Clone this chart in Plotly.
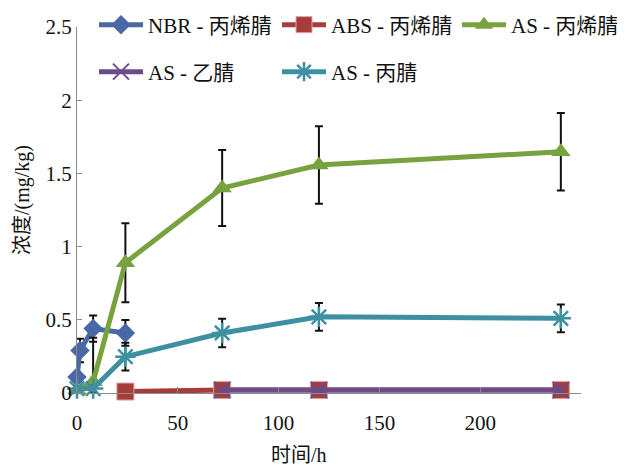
import plotly.graph_objects as go

# ---- data ----
time_nbr = [0, 1.5, 8, 24]
nbr_acrylonitrile = [0.11, 0.29, 0.44, 0.41]
nbr_err = [0.03, 0.08, 0.09, 0.088]

time_abs = [24, 72, 120, 240]
abs_acrylonitrile = [0.01, 0.02, 0.02, 0.02]

time_as = [0, 8, 24, 72, 120, 240]
as_acrylonitrile = [0.02, 0.077, 0.89, 1.40, 1.557, 1.648]
as_acrylonitrile_err = [0, 0.3, 0.27, 0.26, 0.265, 0.265]
as_acrylonitrile_err_minus = [0, 0.077, 0.27, 0.26, 0.265, 0.265]

time_as_acetonitrile = [72, 120, 240]
as_acetonitrile = [0.02, 0.02, 0.02]

as_propionitrile = [0.03, 0.03, 0.248, 0.41, 0.52, 0.51]
as_propionitrile_err = [0, 0.02, 0.095, 0.097, 0.094, 0.095]

x_ticks = [0, 50, 100, 150, 200]
y_ticks = [0, 0.5, 1, 1.5, 2, 2.5]
y_ticktext = ["0", "0.5", "1", "1.5", "2", "2.5"]

names = ["NBR - 丙烯腈", "ABS - 丙烯腈", "AS - 丙烯腈", "AS - 乙腈", "AS - 丙腈"]

FONT = "Liberation Serif, 'Noto Sans CJK SC', serif"
ERR = dict(type="data", color="#111111", thickness=2, width=4)

# the page body adds an 8 px margin at the top-left; the figure compensates
OFF = 8
W, H = 625 - OFF, 471 - OFF

fig = go.Figure()
fig.add_trace(go.Scatter(
    x=time_nbr, y=nbr_acrylonitrile, name=names[0], mode="lines+markers",
    line=dict(color="#4A68A5", width=5),
    marker=dict(symbol="diamond", size=15, color="#4A68A5"),
    error_y=dict(array=nbr_err, **ERR), legend="legend", cliponaxis=False))
fig.add_trace(go.Scatter(
    x=time_abs, y=abs_acrylonitrile, name=names[1], mode="lines+markers",
    line=dict(color="#A63D3A", width=5),
    marker=dict(symbol="square", size=17, color="#A63D3A",
                line=dict(color="#D9A3A1", width=1)),
    legend="legend2", cliponaxis=False))
fig.add_trace(go.Scatter(
    x=time_as, y=as_acrylonitrile, name=names[2], mode="lines+markers",
    line=dict(color="#77A23F", width=5),
    marker=dict(symbol="triangle-up", size=17, color="#77A23F"),
    error_y=dict(array=as_acrylonitrile_err,
                 arrayminus=as_acrylonitrile_err_minus, **ERR),
    legend="legend3", cliponaxis=False))
fig.add_trace(go.Scatter(
    x=time_as_acetonitrile, y=as_acetonitrile, name=names[3], mode="lines+markers",
    line=dict(color="#6B4B8C", width=5),
    marker=dict(symbol="x-thin-open", size=16, color="#6B4B8C",
                line=dict(color="#6B4B8C", width=2)),
    legend="legend4", cliponaxis=False))
fig.add_trace(go.Scatter(
    x=time_as, y=as_propionitrile, name=names[4], mode="lines+markers",
    line=dict(color="#3E90A1", width=5),
    marker=dict(symbol="asterisk-open", size=17, color="#3E90A1",
                line=dict(color="#3E90A1", width=2.5)),
    error_y=dict(array=as_propionitrile_err, **ERR), legend="legend5",
    cliponaxis=False))


def legend_at(px_x, px_y):
    return dict(
        orientation="h", xref="container", yref="container",
        xanchor="left", yanchor="middle",
        x=(px_x - OFF - 3) / W, y=1 - (px_y - OFF) / H, itemwidth=44,
        font=dict(family=FONT, size=21, color="#111111"),
        bgcolor="rgba(0,0,0,0)",
    )


fig.update_layout(
    width=W, height=H, autosize=False,
    margin=dict(l=77 - OFF, r=44, t=27 - OFF, b=78, pad=0, autoexpand=False),
    plot_bgcolor="white", paper_bgcolor="white",
    font=dict(family=FONT, size=21, color="#111111"),
    showlegend=True,
    legend=legend_at(97, 25),
    legend2=legend_at(280, 25),
    legend3=legend_at(460, 25),
    legend4=legend_at(97, 72),
    legend5=legend_at(280, 72),
    xaxis=dict(range=[0, 250], tickvals=x_ticks, ticks="inside", ticklen=6,
               tickcolor="#8c8c8c", showline=True, linecolor="#8c8c8c",
               linewidth=1, showgrid=False, zeroline=False,
               ticklabelstandoff=11,
               tickfont=dict(family=FONT, size=21, color="#111111")),
    yaxis=dict(range=[0, 2.5], tickvals=y_ticks, ticktext=y_ticktext,
               ticks="inside", ticklen=5, tickcolor="#8c8c8c",
               showline=True, linecolor="#8c8c8c", linewidth=1,
               showgrid=False, zeroline=False, ticklabelstandoff=0,
               tickfont=dict(family=FONT, size=21, color="#111111")),
    annotations=[
        dict(text="时间/h", xref="paper", yref="paper",
             x=(299 - 77) / 504, y=-(455 - 393) / 366,
             xanchor="center", yanchor="middle", showarrow=False,
             font=dict(family=FONT, size=20, color="#111111")),
        dict(text="浓度/(mg/kg)", xref="paper", yref="paper",
             x=-(77 - 22) / 504, y=(393 - 200) / 366, textangle=-90,
             xanchor="center", yanchor="middle", showarrow=False,
             font=dict(family=FONT, size=20, color="#111111")),
    ],
)

fig.write_html("out.html")
